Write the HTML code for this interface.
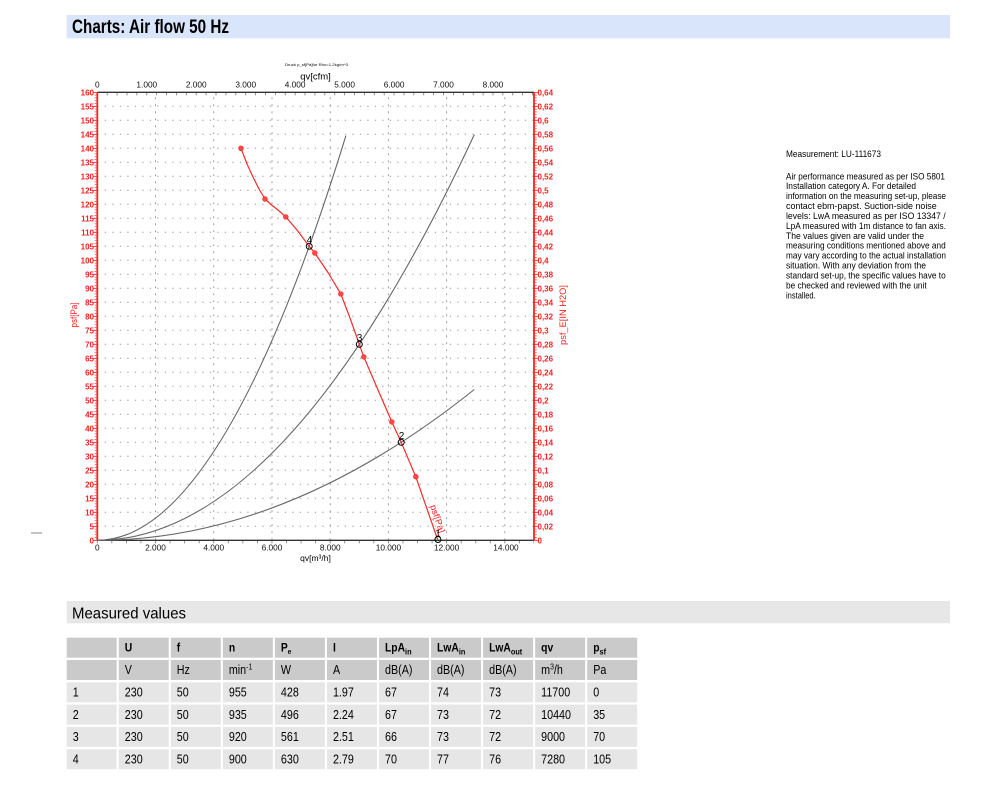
<!DOCTYPE html>
<html><head><meta charset="utf-8"><style>
html,body{margin:0;padding:0;background:#fff;width:1000px;height:795px;overflow:hidden}
svg{display:block;font-family:"Liberation Sans",Arial,sans-serif}
.rl{fill:#ff2020;font-size:8px;font-weight:bold;text-anchor:end}
.rr{fill:#ff2020;font-size:8px;font-weight:bold}
.tk{fill:#111;font-size:8.3px;text-anchor:middle}
.td{font-size:12.5px;fill:#000}
.th{font-size:12px;font-weight:bold;fill:#000}
.pt{font-size:10px;fill:#000;text-anchor:middle}
.ps{font-size:9.5px;fill:#000}
</style></head><body>
<svg width="1000" height="795" viewBox="0 0 1000 795" xmlns="http://www.w3.org/2000/svg">
<!-- Header bar -->
<rect x="66.7" y="15" width="883.3" height="23.3" fill="#d9e5fb"/>
<text x="72" y="33" font-size="19" font-weight="bold" textLength="157" lengthAdjust="spacingAndGlyphs">Charts: Air flow 50 Hz</text>

<!-- small dash left -->
<line x1="31" y1="533" x2="42" y2="533" stroke="#888" stroke-width="1"/>

<!-- chart titles -->
<text x="285" y="66" font-size="4" textLength="63" lengthAdjust="spacingAndGlyphs">Druck p_sf[Pa]for Rho=1,2kg/m^3</text>
<text x="315.5" y="79.5" font-size="9.5" text-anchor="middle">qv[cfm]</text>
<text x="315.5" y="561" font-size="8.5" text-anchor="middle">qv[m³/h]</text>

<!-- grid -->
<path d="M97.3 526.3H534M97.3 512.3H534M97.3 498.3H534M97.3 484.3H534M97.3 470.3H534M97.3 456.3H534M97.3 442.3H534M97.3 428.3H534M97.3 414.3H534M97.3 400.3H534M97.3 386.3H534M97.3 372.3H534M97.3 358.3H534M97.3 344.3H534M97.3 330.3H534M97.3 316.3H534M97.3 302.3H534M97.3 288.3H534M97.3 274.3H534M97.3 260.3H534M97.3 246.3H534M97.3 232.3H534M97.3 218.3H534M97.3 204.3H534M97.3 190.3H534M97.3 176.3H534M97.3 162.3H534M97.3 148.3H534M97.3 134.3H534M97.3 120.3H534M97.3 106.3H534" stroke="#9a9a9a" stroke-width="1" stroke-dasharray="1.3 6.2" fill="none"/>
<path d="M155.5 540.3V92.3M213.7 540.3V92.3M272 540.3V92.3M330.2 540.3V92.3M388.4 540.3V92.3M446.6 540.3V92.3M504.8 540.3V92.3" stroke="#a0a0a0" stroke-width="1" stroke-dasharray="2 5" fill="none"/>

<!-- top & bottom axes -->
<line x1="97.3" y1="92.3" x2="534" y2="92.3" stroke="#333" stroke-width="1.4"/>
<line x1="97.3" y1="540.3" x2="534" y2="540.3" stroke="#333" stroke-width="1.4"/>
<line x1="96.9" y1="94.2" x2="534" y2="94.2" stroke="#777" stroke-width="2.4" stroke-dasharray="0.8 9.092"/>
<line x1="96.9" y1="542.2" x2="534" y2="542.2" stroke="#777" stroke-width="2.4" stroke-dasharray="0.8 13.755"/>

<!-- left & right red axes -->
<line x1="97.3" y1="92.3" x2="97.3" y2="540.3" stroke="#ff2020" stroke-width="1.8"/>
<line x1="95.8" y1="540.65" x2="95.8" y2="92" stroke="#ff4040" stroke-width="2.4" stroke-dasharray="0.7 2.1"/>
<line x1="95.2" y1="540.75" x2="95.2" y2="92" stroke="#ff2020" stroke-width="3.6" stroke-dasharray="0.9 13.1"/>
<line x1="534" y1="92.3" x2="534" y2="540.3" stroke="#ff2020" stroke-width="1.8"/>
<line x1="535.5" y1="540.65" x2="535.5" y2="92" stroke="#ff4040" stroke-width="2.4" stroke-dasharray="0.7 2.1"/>
<line x1="536" y1="540.75" x2="536" y2="92" stroke="#ff2020" stroke-width="3.6" stroke-dasharray="0.9 13.1"/>

<!-- top labels (cfm) -->
<text class="tk" x="97.3" y="87.5">0</text>
<text class="tk" x="146.8" y="87.5">1.000</text>
<text class="tk" x="196.2" y="87.5">2.000</text>
<text class="tk" x="245.7" y="87.5">3.000</text>
<text class="tk" x="295.1" y="87.5">4.000</text>
<text class="tk" x="344.6" y="87.5">5.000</text>
<text class="tk" x="394.1" y="87.5">6.000</text>
<text class="tk" x="443.5" y="87.5">7.000</text>
<text class="tk" x="493" y="87.5">8.000</text>

<!-- bottom labels -->
<text class="tk" x="97.3" y="550.5">0</text>
<text class="tk" x="155.5" y="550.5">2.000</text>
<text class="tk" x="213.7" y="550.5">4.000</text>
<text class="tk" x="272" y="550.5">6.000</text>
<text class="tk" x="330.2" y="550.5">8.000</text>
<text class="tk" x="388.4" y="550.5">10.000</text>
<text class="tk" x="446.6" y="550.5">12.000</text>
<text class="tk" x="506" y="550.5">14.000</text>

<!-- left labels -->
<text class="rl" x="94" y="543.3">0</text>
<text class="rl" x="94" y="529.3">5</text>
<text class="rl" x="94" y="515.3">10</text>
<text class="rl" x="94" y="501.3">15</text>
<text class="rl" x="94" y="487.3">20</text>
<text class="rl" x="94" y="473.3">25</text>
<text class="rl" x="94" y="459.3">30</text>
<text class="rl" x="94" y="445.3">35</text>
<text class="rl" x="94" y="431.3">40</text>
<text class="rl" x="94" y="417.3">45</text>
<text class="rl" x="94" y="403.3">50</text>
<text class="rl" x="94" y="389.3">55</text>
<text class="rl" x="94" y="375.3">60</text>
<text class="rl" x="94" y="361.3">65</text>
<text class="rl" x="94" y="347.3">70</text>
<text class="rl" x="94" y="333.3">75</text>
<text class="rl" x="94" y="319.3">80</text>
<text class="rl" x="94" y="305.3">85</text>
<text class="rl" x="94" y="291.3">90</text>
<text class="rl" x="94" y="277.3">95</text>
<text class="rl" x="94" y="263.3">100</text>
<text class="rl" x="94" y="249.3">105</text>
<text class="rl" x="94" y="235.3">110</text>
<text class="rl" x="94" y="221.3">115</text>
<text class="rl" x="94" y="207.3">120</text>
<text class="rl" x="94" y="193.3">125</text>
<text class="rl" x="94" y="179.3">130</text>
<text class="rl" x="94" y="165.3">135</text>
<text class="rl" x="94" y="151.3">140</text>
<text class="rl" x="94" y="137.3">145</text>
<text class="rl" x="94" y="123.3">150</text>
<text class="rl" x="94" y="109.3">155</text>
<text class="rl" x="94" y="95.3">160</text>

<!-- right labels -->
<text class="rr" x="537.5" y="543.3">0</text>
<text class="rr" x="537.5" y="529.3">0,02</text>
<text class="rr" x="537.5" y="515.3">0,04</text>
<text class="rr" x="537.5" y="501.3">0,06</text>
<text class="rr" x="537.5" y="487.3">0,08</text>
<text class="rr" x="537.5" y="473.3">0,1</text>
<text class="rr" x="537.5" y="459.3">0,12</text>
<text class="rr" x="537.5" y="445.3">0,14</text>
<text class="rr" x="537.5" y="431.3">0,16</text>
<text class="rr" x="537.5" y="417.3">0,18</text>
<text class="rr" x="537.5" y="403.3">0,2</text>
<text class="rr" x="537.5" y="389.3">0,22</text>
<text class="rr" x="537.5" y="375.3">0,24</text>
<text class="rr" x="537.5" y="361.3">0,26</text>
<text class="rr" x="537.5" y="347.3">0,28</text>
<text class="rr" x="537.5" y="333.3">0,3</text>
<text class="rr" x="537.5" y="319.3">0,32</text>
<text class="rr" x="537.5" y="305.3">0,34</text>
<text class="rr" x="537.5" y="291.3">0,36</text>
<text class="rr" x="537.5" y="277.3">0,38</text>
<text class="rr" x="537.5" y="263.3">0,4</text>
<text class="rr" x="537.5" y="249.3">0,42</text>
<text class="rr" x="537.5" y="235.3">0,44</text>
<text class="rr" x="537.5" y="221.3">0,46</text>
<text class="rr" x="537.5" y="207.3">0,48</text>
<text class="rr" x="537.5" y="193.3">0,5</text>
<text class="rr" x="537.5" y="179.3">0,52</text>
<text class="rr" x="537.5" y="165.3">0,54</text>
<text class="rr" x="537.5" y="151.3">0,56</text>
<text class="rr" x="537.5" y="137.3">0,58</text>
<text class="rr" x="537.5" y="123.3">0,6</text>
<text class="rr" x="537.5" y="109.3">0,62</text>
<text class="rr" x="537.5" y="95.3">0,64</text>

<!-- axis titles -->
<text transform="translate(77,315) rotate(-90)" font-size="9" fill="#ff2020" text-anchor="middle" textLength="25" lengthAdjust="spacingAndGlyphs">psf[Pa]</text>
<text transform="translate(566,315) rotate(-90)" font-size="9" fill="#ff2020" text-anchor="middle" textLength="60" lengthAdjust="spacingAndGlyphs">psf_E[IN H2O]</text>

<!-- system curves -->
<g fill="none" stroke="#666" stroke-width="1.1">
<path d="M97.3 540.3Q221.6 540.3 345.9 135.7"/>
<path d="M97.3 540.3Q285.8 540.3 474.3 134.6"/>
<path d="M97.3 540.3Q285.8 540.3 474.3 389.5"/>
</g>

<!-- red fan curve -->
<polyline fill="none" stroke="#ff2828" stroke-width="1.2" stroke-linejoin="round" points="241,148.3 247,164 253,177 259,189 265,199 271,204.5 278,210 285.8,216.9 297,230 309.2,246.3 314.8,253 328,272.5 340.8,293.9 350,318 359.3,344.3 363.8,356.9 391.8,421.9 401.2,442.3 415.8,476.7 437.9,540.3"/>
<g fill="#ff4a4a" stroke="#ff2020" stroke-width="0.6">
<circle cx="241" cy="148.3" r="2.4"/>
<circle cx="265" cy="199" r="2.4"/>
<circle cx="285.8" cy="216.9" r="2.4"/>
<circle cx="314.8" cy="253" r="2.4"/>
<circle cx="340.8" cy="293.9" r="2.4"/>
<circle cx="363.8" cy="356.9" r="2.4"/>
<circle cx="391.8" cy="421.9" r="2.4"/>
<circle cx="415.8" cy="476.7" r="2.4"/>
</g>
<text transform="translate(430,506) rotate(71)" font-size="9" fill="#ff2020" textLength="29" lengthAdjust="spacingAndGlyphs">psf[Pa]</text>

<!-- operating points -->
<g fill="none" stroke="#000" stroke-width="1">
<circle cx="309.2" cy="246.3" r="3"/>
<circle cx="359.3" cy="344.3" r="3"/>
<circle cx="401.2" cy="442.3" r="3"/>
<circle cx="437.9" cy="539.5" r="3"/>
</g>
<text class="pt" x="309.5" y="243">4</text>
<text class="pt" x="359.5" y="341">3</text>
<text class="pt" x="401.5" y="439">2</text>
<text class="pt" x="438" y="536.5">1</text>

<!-- right text block -->
<text class="ps" x="786" y="157" textLength="95" lengthAdjust="spacingAndGlyphs">Measurement: LU-111673</text>
<text class="ps" x="786" y="179.3" textLength="159" lengthAdjust="spacingAndGlyphs">Air performance measured as per ISO 5801</text>
<text class="ps" x="786" y="189.2" textLength="130" lengthAdjust="spacingAndGlyphs">Installation category A. For detailed</text>
<text class="ps" x="786" y="199.1" textLength="160" lengthAdjust="spacingAndGlyphs">information on the measuring set-up, please</text>
<text class="ps" x="786" y="209.1" textLength="150.7" lengthAdjust="spacingAndGlyphs">contact ebm-papst. Suction-side noise</text>
<text class="ps" x="786" y="219" textLength="159.7" lengthAdjust="spacingAndGlyphs">levels: LwA measured as per ISO 13347 /</text>
<text class="ps" x="786" y="228.9" textLength="160" lengthAdjust="spacingAndGlyphs">LpA measured with 1m distance to fan axis.</text>
<text class="ps" x="786" y="238.8" textLength="138" lengthAdjust="spacingAndGlyphs">The values given are valid under the</text>
<text class="ps" x="786" y="248.7" textLength="159.7" lengthAdjust="spacingAndGlyphs">measuring conditions mentioned above and</text>
<text class="ps" x="786" y="258.7" textLength="160" lengthAdjust="spacingAndGlyphs">may vary according to the actual installation</text>
<text class="ps" x="786" y="268.6" textLength="140" lengthAdjust="spacingAndGlyphs">situation. With any deviation from the</text>
<text class="ps" x="786" y="278.5" textLength="159.7" lengthAdjust="spacingAndGlyphs">standard set-up, the specific values have to</text>
<text class="ps" x="786" y="288.4" textLength="140.7" lengthAdjust="spacingAndGlyphs">be checked and reviewed with the unit</text>
<text class="ps" x="786" y="298.3" textLength="29.7" lengthAdjust="spacingAndGlyphs">installed.</text>

<!-- Measured values bar -->
<rect x="66.7" y="601" width="883.3" height="22.3" fill="#e7e7e7"/>
<text x="72" y="618.3" font-size="16" textLength="114" lengthAdjust="spacingAndGlyphs">Measured values</text>

<!-- table cells -->
<g fill="#cacaca">
<rect x="66.7" y="637.7" width="50" height="20"/><rect x="118.75" y="637.7" width="50" height="20"/><rect x="170.8" y="637.7" width="50" height="20"/><rect x="222.85" y="637.7" width="50" height="20"/><rect x="274.9" y="637.7" width="50" height="20"/><rect x="326.95" y="637.7" width="50" height="20"/><rect x="379" y="637.7" width="50" height="20"/><rect x="431.05" y="637.7" width="50" height="20"/><rect x="483.1" y="637.7" width="50" height="20"/><rect x="535.15" y="637.7" width="50" height="20"/><rect x="587.2" y="637.7" width="50" height="20"/>
<rect x="66.7" y="660" width="50" height="20"/><rect x="118.75" y="660" width="50" height="20"/><rect x="170.8" y="660" width="50" height="20"/><rect x="222.85" y="660" width="50" height="20"/><rect x="274.9" y="660" width="50" height="20"/><rect x="326.95" y="660" width="50" height="20"/><rect x="379" y="660" width="50" height="20"/><rect x="431.05" y="660" width="50" height="20"/><rect x="483.1" y="660" width="50" height="20"/><rect x="535.15" y="660" width="50" height="20"/><rect x="587.2" y="660" width="50" height="20"/>
</g>
<g fill="#e6e6e6">
<rect x="66.7" y="682.3" width="50" height="20"/><rect x="118.75" y="682.3" width="50" height="20"/><rect x="170.8" y="682.3" width="50" height="20"/><rect x="222.85" y="682.3" width="50" height="20"/><rect x="274.9" y="682.3" width="50" height="20"/><rect x="326.95" y="682.3" width="50" height="20"/><rect x="379" y="682.3" width="50" height="20"/><rect x="431.05" y="682.3" width="50" height="20"/><rect x="483.1" y="682.3" width="50" height="20"/><rect x="535.15" y="682.3" width="50" height="20"/><rect x="587.2" y="682.3" width="50" height="20"/>
<rect x="66.7" y="704.6" width="50" height="20"/><rect x="118.75" y="704.6" width="50" height="20"/><rect x="170.8" y="704.6" width="50" height="20"/><rect x="222.85" y="704.6" width="50" height="20"/><rect x="274.9" y="704.6" width="50" height="20"/><rect x="326.95" y="704.6" width="50" height="20"/><rect x="379" y="704.6" width="50" height="20"/><rect x="431.05" y="704.6" width="50" height="20"/><rect x="483.1" y="704.6" width="50" height="20"/><rect x="535.15" y="704.6" width="50" height="20"/><rect x="587.2" y="704.6" width="50" height="20"/>
<rect x="66.7" y="726.9" width="50" height="20"/><rect x="118.75" y="726.9" width="50" height="20"/><rect x="170.8" y="726.9" width="50" height="20"/><rect x="222.85" y="726.9" width="50" height="20"/><rect x="274.9" y="726.9" width="50" height="20"/><rect x="326.95" y="726.9" width="50" height="20"/><rect x="379" y="726.9" width="50" height="20"/><rect x="431.05" y="726.9" width="50" height="20"/><rect x="483.1" y="726.9" width="50" height="20"/><rect x="535.15" y="726.9" width="50" height="20"/><rect x="587.2" y="726.9" width="50" height="20"/>
<rect x="66.7" y="749.2" width="50" height="20"/><rect x="118.75" y="749.2" width="50" height="20"/><rect x="170.8" y="749.2" width="50" height="20"/><rect x="222.85" y="749.2" width="50" height="20"/><rect x="274.9" y="749.2" width="50" height="20"/><rect x="326.95" y="749.2" width="50" height="20"/><rect x="379" y="749.2" width="50" height="20"/><rect x="431.05" y="749.2" width="50" height="20"/><rect x="483.1" y="749.2" width="50" height="20"/><rect x="535.15" y="749.2" width="50" height="20"/><rect x="587.2" y="749.2" width="50" height="20"/>
</g>

<!-- header row -->
<text class="th" transform="translate(124.75,651.7) scale(.86,1)">U</text>
<text class="th" transform="translate(176.8,651.7) scale(.86,1)">f</text>
<text class="th" transform="translate(228.85,651.7) scale(.86,1)">n</text>
<text class="th" transform="translate(280.9,651.7) scale(.86,1)">P<tspan font-size="7.5" dy="2.5">e</tspan></text>
<text class="th" transform="translate(332.95,651.7) scale(.86,1)">I</text>
<text class="th" transform="translate(385,651.7) scale(.86,1)">LpA<tspan font-size="8.5" dy="3">in</tspan></text>
<text class="th" transform="translate(437.05,651.7) scale(.86,1)">LwA<tspan font-size="8.5" dy="3">in</tspan></text>
<text class="th" transform="translate(489.1,651.7) scale(.86,1)">LwA<tspan font-size="8.5" dy="3">out</tspan></text>
<text class="th" transform="translate(541.15,651.7) scale(.86,1)">qv</text>
<text class="th" transform="translate(593.2,651.7) scale(.86,1)">p<tspan font-size="8.5" dy="3">sf</tspan></text>

<!-- units row -->
<text class="td" transform="translate(124.75,674) scale(.86,1)">V</text>
<text class="td" transform="translate(176.8,674) scale(.86,1)">Hz</text>
<text class="td" transform="translate(228.85,674) scale(.86,1)">min<tspan font-size="8" dy="-4.5">-1</tspan></text>
<text class="td" transform="translate(280.9,674) scale(.86,1)">W</text>
<text class="td" transform="translate(332.95,674) scale(.86,1)">A</text>
<text class="td" transform="translate(385,674) scale(.86,1)">dB(A)</text>
<text class="td" transform="translate(437.05,674) scale(.86,1)">dB(A)</text>
<text class="td" transform="translate(489.1,674) scale(.86,1)">dB(A)</text>
<text class="td" transform="translate(541.15,674) scale(.86,1)">m<tspan font-size="8" dy="-4.5">3</tspan><tspan dy="4.5">/h</tspan></text>
<text class="td" transform="translate(593.2,674) scale(.86,1)">Pa</text>

<!-- data rows -->
<text class="td" transform="translate(72.7,696.3) scale(.86,1)">1</text>
<text class="td" transform="translate(124.75,696.3) scale(.86,1)">230</text>
<text class="td" transform="translate(176.8,696.3) scale(.86,1)">50</text>
<text class="td" transform="translate(228.85,696.3) scale(.86,1)">955</text>
<text class="td" transform="translate(280.9,696.3) scale(.86,1)">428</text>
<text class="td" transform="translate(332.95,696.3) scale(.86,1)">1.97</text>
<text class="td" transform="translate(385,696.3) scale(.86,1)">67</text>
<text class="td" transform="translate(437.05,696.3) scale(.86,1)">74</text>
<text class="td" transform="translate(489.1,696.3) scale(.86,1)">73</text>
<text class="td" transform="translate(541.15,696.3) scale(.86,1)">11700</text>
<text class="td" transform="translate(593.2,696.3) scale(.86,1)">0</text>

<text class="td" transform="translate(72.7,718.8) scale(.86,1)">2</text>
<text class="td" transform="translate(124.75,718.8) scale(.86,1)">230</text>
<text class="td" transform="translate(176.8,718.8) scale(.86,1)">50</text>
<text class="td" transform="translate(228.85,718.8) scale(.86,1)">935</text>
<text class="td" transform="translate(280.9,718.8) scale(.86,1)">496</text>
<text class="td" transform="translate(332.95,718.8) scale(.86,1)">2.24</text>
<text class="td" transform="translate(385,718.8) scale(.86,1)">67</text>
<text class="td" transform="translate(437.05,718.8) scale(.86,1)">73</text>
<text class="td" transform="translate(489.1,718.8) scale(.86,1)">72</text>
<text class="td" transform="translate(541.15,718.8) scale(.86,1)">10440</text>
<text class="td" transform="translate(593.2,718.8) scale(.86,1)">35</text>

<text class="td" transform="translate(72.7,741.2) scale(.86,1)">3</text>
<text class="td" transform="translate(124.75,741.2) scale(.86,1)">230</text>
<text class="td" transform="translate(176.8,741.2) scale(.86,1)">50</text>
<text class="td" transform="translate(228.85,741.2) scale(.86,1)">920</text>
<text class="td" transform="translate(280.9,741.2) scale(.86,1)">561</text>
<text class="td" transform="translate(332.95,741.2) scale(.86,1)">2.51</text>
<text class="td" transform="translate(385,741.2) scale(.86,1)">66</text>
<text class="td" transform="translate(437.05,741.2) scale(.86,1)">73</text>
<text class="td" transform="translate(489.1,741.2) scale(.86,1)">72</text>
<text class="td" transform="translate(541.15,741.2) scale(.86,1)">9000</text>
<text class="td" transform="translate(593.2,741.2) scale(.86,1)">70</text>

<text class="td" transform="translate(72.7,763.4) scale(.86,1)">4</text>
<text class="td" transform="translate(124.75,763.4) scale(.86,1)">230</text>
<text class="td" transform="translate(176.8,763.4) scale(.86,1)">50</text>
<text class="td" transform="translate(228.85,763.4) scale(.86,1)">900</text>
<text class="td" transform="translate(280.9,763.4) scale(.86,1)">630</text>
<text class="td" transform="translate(332.95,763.4) scale(.86,1)">2.79</text>
<text class="td" transform="translate(385,763.4) scale(.86,1)">70</text>
<text class="td" transform="translate(437.05,763.4) scale(.86,1)">77</text>
<text class="td" transform="translate(489.1,763.4) scale(.86,1)">76</text>
<text class="td" transform="translate(541.15,763.4) scale(.86,1)">7280</text>
<text class="td" transform="translate(593.2,763.4) scale(.86,1)">105</text>
</svg>
</body></html>
